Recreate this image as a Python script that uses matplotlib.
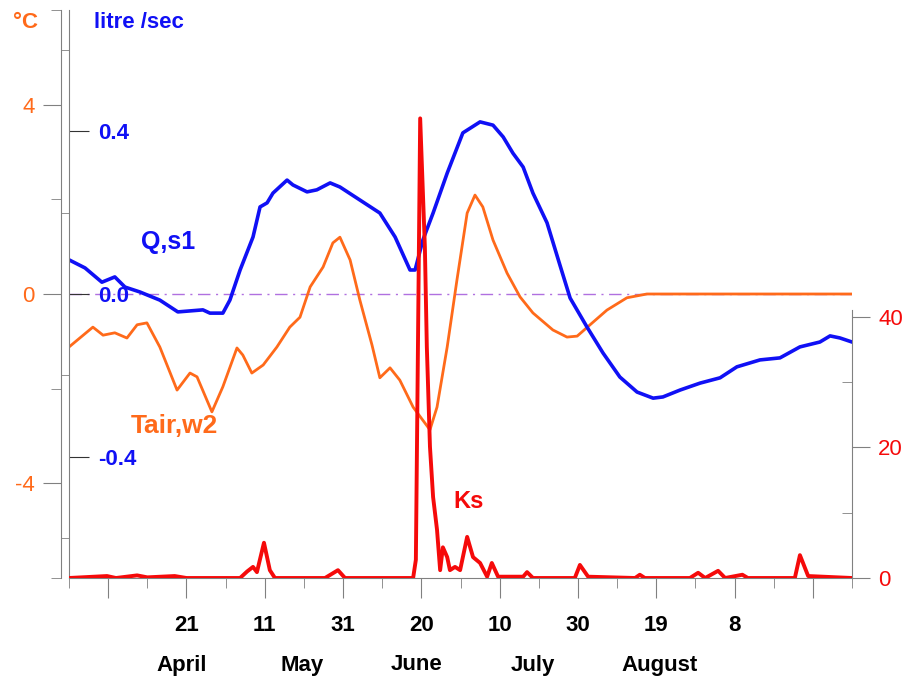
import matplotlib
matplotlib.use('Agg')
import matplotlib.pyplot as plt

plt.rcParams['font.family'] = ['Liberation Sans', 'DejaVu Sans']

# ---- data (x = days after 22 March) ----
q_days = [0, 4.1, 8.4, 11.7, 14.3, 18.1, 23.2, 27.8, 34.2, 36.0, 39.3, 41.1, 43.7, 47.0,
          48.8, 50.6, 52.1, 55.7, 57.2, 60.8, 63.3, 66.7, 69.2, 74.3, 79.4, 83.3, 87.1,
          88.4, 90.4, 93.0, 96.6, 100.6, 105.0, 108.3, 110.9, 113.4, 116.0, 118.5, 122.1,
          125.4, 128.0, 132.3, 136.4, 140.7, 145.1, 149.2, 151.7, 156.1, 161.2, 166.3,
          170.6, 176.5, 181.6, 186.7, 191.8, 194.4, 196.9, 200]
q_vals = [0.084, 0.064, 0.029, 0.042, 0.017, 0.005, -0.015, -0.044, -0.039, -0.047, -0.047,
          -0.015, 0.059, 0.140, 0.214, 0.224, 0.248, 0.280, 0.268, 0.251, 0.256, 0.273,
          0.263, 0.231, 0.199, 0.140, 0.059, 0.059, 0.133, 0.199, 0.297, 0.396, 0.423,
          0.415, 0.386, 0.346, 0.312, 0.248, 0.175, 0.071, -0.010, -0.081, -0.145, -0.204,
          -0.241, -0.256, -0.253, -0.236, -0.219, -0.206, -0.179, -0.162, -0.157, -0.130,
          -0.118, -0.103, -0.108, -0.118]

t_days = [0, 6.1, 8.7, 11.7, 14.8, 17.4, 19.9, 23.2, 27.6, 30.9, 32.7, 36.5, 39.3, 42.9,
          44.4, 46.7, 49.6, 53.1, 56.4, 59.0, 61.6, 64.9, 67.4, 69.2, 71.8, 74.3, 77.4,
          79.4, 82.0, 84.5, 87.9, 92.2, 94.0, 96.6, 99.1, 101.7, 103.7, 105.7, 108.3,
          111.9, 115.2, 118.5, 123.6, 127.2, 129.8, 133.1, 137.4, 142.5, 147.6, 200]
t_vals = [-1.12, -0.70, -0.87, -0.82, -0.93, -0.65, -0.61, -1.12, -2.03, -1.67, -1.75,
          -2.49, -1.96, -1.14, -1.29, -1.67, -1.50, -1.12, -0.70, -0.49, 0.15, 0.57, 1.08,
          1.20, 0.72, -0.13, -1.08, -1.77, -1.56, -1.82, -2.39, -2.87, -2.39, -1.12, 0.30,
          1.71, 2.09, 1.84, 1.14, 0.44, -0.06, -0.40, -0.76, -0.91, -0.89, -0.65, -0.34,
          -0.08, 0.0, 0.0]

k_days = [0, 9.7, 12, 17.4, 20, 27, 30, 43.7, 45.5, 47.0, 48.0, 49.8, 51.3, 52.6, 65.4,
          68.7, 70.5, 87.9, 88.6, 89.7, 90.9, 91.4, 92.2, 93.0, 94.0, 94.8, 95.5, 96.6,
          97.3, 98.6, 99.9, 101.7, 103.2, 105.0, 106.8, 108.0, 109.6, 116.0, 117.0, 118.5,
          129.2, 130.5, 132.6, 144.6, 145.8, 147.1, 158.6, 160.7, 162.5, 165.8, 167.6,
          172.0, 173.4, 185.4, 186.7, 188.8, 200]
k_vals = [0, 0.3, 0, 0.4, 0.1, 0.3, 0, 0, 1.0, 1.7, 0.9, 5.4, 1.2, 0, 0, 1.2, 0, 0, 2.8,
          70.4, 50.7, 35.4, 20.1, 12.4, 7.4, 1.2, 4.7, 3.2, 1.2, 1.7, 1.2, 6.3, 3.2, 2.3,
          0.2, 2.3, 0.2, 0.2, 0.9, 0, 0, 2.0, 0.2, 0, 0.5, 0, 0, 0.8, 0, 1.1, 0, 0.5, 0,
          0, 3.5, 0.3, 0]

x_major = [10, 30, 50, 70, 90, 110, 130, 150, 170, 190]
x_major_labels = ['', '21', '11', '31', '20', '10', '30', '19', '8', '']
x_minor = [0, 20, 40, 60, 80, 100, 120, 140, 160, 180, 200]
months = ['April', 'May', 'June', 'July', 'August']
month_px = [182, 302, 417, 533, 660]

t_ticks = [-4, 0, 4]
t_tick_labels = ['-4', '0', '4']
t_minor = [-6, -2, 2, 6]
q_ticks = [-0.4, 0.0, 0.4]
q_tick_labels = ['-0.4', '0.0', '0.4']
q_minor = [-0.6, -0.2, 0.2, 0.6]
k_ticks = [0, 20, 40]
k_minor = [10, 30]

# ---- style ----
W, H = 910, 682
BLUE = '#1010f5'
ORANGE = '#ff6a1a'
RED = '#f50a0a'
GRAY = '#808080'
PURPLE = '#b070e0'

fig = plt.figure(figsize=(W / 100, H / 100), dpi=100)
rect = [69 / W, 1 - 578 / H, 783 / W, 568 / H]
axT = fig.add_axes(rect)
axT.set_xlim(0, 200)
axT.set_ylim(-6, 6)
axQ = axT.twinx()
axQ.set_ylim(-0.698, 0.698)
axK = axT.twinx()
axK.set_ylim(0, 87)

def px2pt(p):
    return p * 0.72

# temperature axis
for s in ['top', 'right']:
    axT.spines[s].set_visible(False)
axT.spines['left'].set_position(('outward', px2pt(8)))
axT.spines['left'].set_color(GRAY)
axT.spines['bottom'].set_color(GRAY)
axT.set_yticks(t_ticks, labels=t_tick_labels)
axT.set_yticks(t_minor, minor=True)
axT.tick_params(axis='y', which='major', direction='out', length=px2pt(18), color=GRAY,
                labelcolor=ORANGE, labelsize=16, pad=6)
axT.tick_params(axis='y', which='minor', direction='out', length=px2pt(10), color=GRAY)
axT.set_xticks(x_major, labels=x_major_labels)
axT.set_xticks(x_minor, minor=True)
axT.tick_params(axis='x', which='major', direction='out', length=px2pt(20), color=GRAY,
                labelsize=16, pad=12)
axT.tick_params(axis='x', which='minor', direction='out', length=px2pt(10), color=GRAY)
for lab in axT.get_xticklabels():
    lab.set_fontweight('bold')

# Q axis (inner left)
axQ.yaxis.tick_left()
for s in ['top', 'right', 'bottom']:
    axQ.spines[s].set_visible(False)
axQ.spines['left'].set_visible(True)
axQ.spines['left'].set_color(GRAY)
axQ.set_yticks(q_ticks, labels=q_tick_labels)
axQ.set_yticks(q_minor, minor=True)
axQ.tick_params(axis='y', which='major', direction='in', length=px2pt(20), color='#333333',
                labelcolor=BLUE, labelsize=16, pad=-px2pt(29))
axQ.tick_params(axis='y', which='minor', direction='out', length=px2pt(8), color=GRAY)
for lab in axQ.get_yticklabels():
    lab.set_horizontalalignment('left')
    lab.set_fontweight('bold')

# Ks axis (right)
for s in ['top', 'left', 'bottom']:
    axK.spines[s].set_visible(False)
axK.spines['right'].set_color(GRAY)
axK.spines['right'].set_bounds(0, 41)
axK.set_yticks(k_ticks)
axK.set_yticks(k_minor, minor=True)
axK.tick_params(axis='y', which='major', direction='out', length=px2pt(18), color=GRAY,
                labelcolor=RED, labelsize=16, pad=6)
axK.tick_params(axis='y', which='minor', direction='in', length=px2pt(10), color=GRAY)

# lines
axT.axhline(0, color=PURPLE, lw=1, linestyle=(0, (9, 4, 1.5, 4)), zorder=1)
axT.plot(t_days, t_vals, color=ORANGE, lw=2.0, zorder=3)
axQ.plot(q_days, q_vals, color=BLUE, lw=2.6)
axK.plot(k_days, k_vals, color=RED, lw=2.8, solid_joinstyle='round')

def ftext(px, py, s, **kw):
    fig.text(px / W, 1 - py / H, s, ha='center', va='center', **kw)

ftext(25, 22, '°C', color=ORANGE, fontsize=16, fontweight='bold')
ftext(139, 22, 'litre /sec', color=BLUE, fontsize=16, fontweight='bold')
ftext(168, 242, 'Q,s1', color=BLUE, fontsize=18, fontweight='bold')
ftext(174, 426, 'Tair,w2', color=ORANGE, fontsize=19, fontweight='bold')
ftext(469, 502, 'Ks', color=RED, fontsize=17, fontweight='bold')
for m, px in zip(months, month_px):
    ftext(px, 665, m, color='black', fontsize=16, fontweight='bold')

fig.savefig('out.png', dpi=100)
